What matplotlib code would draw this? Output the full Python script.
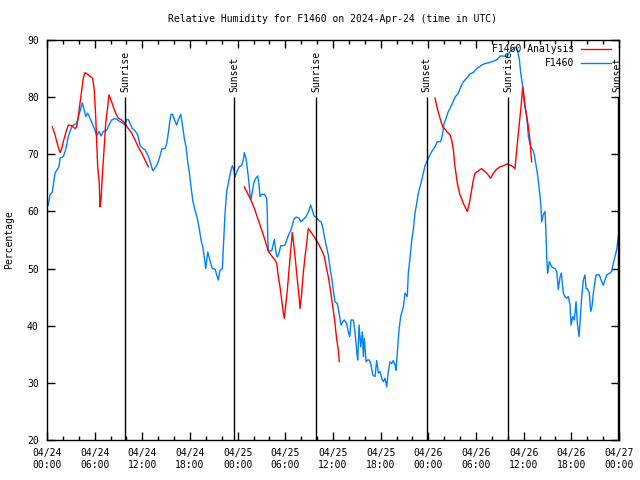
import numpy as np
import pandas as pd
import matplotlib
matplotlib.use('Agg')
import matplotlib.pyplot as plt
import matplotlib.dates as mdates

# hours after 2024-04-24 00:00 UTC
obs_hours = [0.16, 0.38, 0.67, 1.01, 1.22, 1.51, 1.64, 2.05, 2.35, 2.68, 3.11, 3.31, 3.74, 3.94,
             4.15, 4.44, 4.70, 4.87, 5.12, 5.41, 5.70, 6.04, 6.26, 6.55, 6.80, 7.09, 7.52, 7.80,
             8.14, 8.56, 8.90, 9.19, 9.60, 9.82, 10.03, 10.23, 10.45, 10.74, 11.08, 11.42, 11.71,
             12.00, 12.34, 12.68, 12.97, 13.31, 13.60, 13.89, 14.14, 14.44, 14.85, 15.07, 15.27,
             15.48, 15.61, 15.82, 16.02, 16.33, 16.53, 16.83, 17.08, 17.28, 17.50, 17.71, 17.91,
             18.13, 18.34, 18.63, 18.92, 19.17, 19.39, 19.60, 19.76, 19.98, 20.23, 20.39, 20.61,
             20.81, 21.15, 21.36, 21.56, 21.78, 22.07, 22.19, 22.41, 22.62, 22.91, 23.12, 23.33,
             23.54, 23.67, 23.95, 24.21, 24.51, 24.71, 24.84, 25.05, 25.26, 25.43, 25.55, 25.68,
             25.84, 26.02, 26.27, 26.52, 26.69, 26.81, 27.03, 27.35, 27.65, 27.73, 27.78, 27.86,
             28.29, 28.49, 28.61, 28.70, 28.83, 28.99, 29.20, 29.42, 29.67, 29.96, 30.17, 30.46,
             30.68, 30.88, 31.13, 31.43, 31.72, 31.97, 32.26, 32.57, 32.89, 33.19, 33.40, 33.61,
             33.86, 34.15, 34.49, 34.71, 34.91, 35.21, 35.41, 35.62, 35.84, 36.04, 36.25, 36.54,
             36.76, 37.01, 37.22, 37.42, 37.72, 37.93, 38.10, 38.27, 38.56, 38.77, 38.99, 39.11,
             39.28, 39.49, 39.69, 39.82, 39.94, 40.16, 40.37, 40.57, 40.79, 41.00, 41.29, 41.50,
             41.71, 41.92, 42.13, 42.33, 42.55, 42.76, 42.96, 43.18, 43.39, 43.59, 43.81, 43.93,
             44.15, 44.31, 44.52, 44.85, 45.07, 45.35, 45.48, 45.69, 45.91, 46.11, 46.32, 46.54,
             46.74, 46.95, 47.17, 47.37, 47.58, 47.80, 48.12, 48.43, 48.84, 49.13, 49.56, 49.81,
             49.98, 50.23, 50.52, 50.94, 51.36, 51.78, 52.08, 52.41, 52.83, 53.25, 53.66, 54.00,
             54.42, 54.72, 55.14, 55.55, 55.98, 56.39, 56.68, 57.02, 57.44, 57.87, 58.28, 58.70,
             58.91, 59.20, 59.46, 59.63, 59.83, 59.96, 60.09, 60.30, 60.46, 60.59, 60.89, 61.14,
             61.34, 61.52, 61.72, 61.93, 62.15, 62.27, 62.47, 62.69, 62.81, 62.90, 63.03, 63.23,
             63.53, 63.95, 64.16, 64.36, 64.58, 64.74, 64.99, 65.21, 65.42, 65.62, 65.84, 65.96,
             66.18, 66.38, 66.59, 66.76, 66.97, 67.09, 67.31, 67.51, 67.72, 67.85, 68.01, 68.26,
             68.44, 68.60, 68.77, 68.98, 69.11, 69.52, 69.74, 70.03, 70.24, 70.45, 70.87, 71.08,
             71.28, 71.50, 71.71, 71.91, 72.00]
obs_rh = [61.1, 62.9, 63.4, 66.7, 67.2, 67.8, 69.3, 69.6, 70.8, 73.1, 74.8, 75.1, 75.4, 76.6,
          77.5, 79.0, 77.7, 76.6, 77.2, 76.3, 75.4, 74.2, 73.2, 74.0, 73.2, 74.0, 74.2, 75.1,
          76.0, 76.3, 76.0, 75.7, 75.4, 75.1, 76.1, 76.1, 75.4, 74.5, 74.1, 73.4, 71.6,
          71.1, 70.8, 69.9, 68.8, 67.1, 67.6, 68.3, 69.3, 70.9, 71.0, 71.9, 73.7,
          76.0, 77.0, 77.0, 76.1, 75.1, 76.1, 77.0, 74.8, 72.8, 71.3, 68.7, 66.9,
          64.3, 62.0, 60.2, 58.8, 57.0, 55.0, 53.8, 52.4, 50.0, 52.9, 52.1, 50.9,
          50.0, 49.9, 48.9, 48.0, 49.7, 50.0, 53.3, 59.7, 63.5, 65.5, 67.0, 68.0,
          67.2, 66.1, 67.1, 67.8, 68.1, 69.0, 70.3, 69.3, 67.0, 64.9, 62.9, 62.1,
          63.4, 64.9, 65.8, 66.2, 64.6, 62.6, 63.0, 63.0, 62.3, 59.7, 55.6, 53.1,
          53.1, 54.4, 55.1, 54.1, 52.7, 52.0, 52.7, 54.0, 54.0, 54.1, 55.0, 56.0,
          56.7, 57.6, 58.8, 59.0, 58.8, 58.2, 58.6, 59.0, 59.9, 61.1, 60.2, 59.2,
          59.0, 58.5, 58.2, 57.2, 55.6, 53.6, 52.4, 50.2, 48.3, 46.2, 44.2, 43.9,
          42.2, 40.1, 40.7, 41.0, 40.4, 38.9, 38.1, 41.0, 41.0, 38.9, 35.4, 34.0,
          40.1, 36.3, 38.9, 34.6, 37.8, 33.7, 34.0, 34.0, 33.1, 31.4, 31.1, 33.9,
          31.7, 32.0, 30.8, 30.2, 30.8, 29.3, 32.0, 33.7, 33.4, 33.9, 33.1, 32.2,
          36.3, 39.3, 41.6, 43.3, 45.7, 45.1, 49.2, 51.8, 55.0, 56.8, 59.7, 61.4,
          63.2, 64.3, 65.5, 66.7, 68.0, 68.7, 69.6, 70.5, 71.3, 72.2, 72.2, 73.7,
          75.4, 76.3, 77.5, 78.6, 80.0, 80.7, 81.8, 82.7, 83.3, 84.1, 84.3, 84.9,
          85.3, 85.6, 85.9, 86.0, 86.2, 86.4, 86.6, 87.2, 87.2, 87.1, 88.0, 88.4,
          88.8, 88.4, 86.5, 84.2, 82.4, 80.4, 78.9, 77.5, 75.4, 73.1, 71.3, 70.8,
          69.9, 68.4, 66.7, 64.3, 61.4, 58.2, 59.4, 60.0, 56.2, 51.8, 49.2, 51.2,
          50.3, 50.0, 49.5, 46.3, 48.6, 49.2, 45.7, 45.1, 44.8, 45.1, 43.6, 40.1,
          41.6, 41.0, 44.2, 40.4, 38.1, 40.4, 45.1, 48.0, 48.9, 46.5, 46.5, 45.7,
          42.5, 43.3, 45.7, 47.7, 48.9, 48.9, 48.0, 47.1, 48.0, 48.9, 49.2, 49.5,
          50.9, 52.1, 53.3, 55.6, 56.2]

# analysis runs (three separate pieces)
ana1_hours = [0.67, 1.01, 1.35, 1.64, 1.85, 2.05, 2.35, 2.68, 3.11, 3.52, 3.74, 3.94, 4.15,
              4.37, 4.57, 4.78, 5.20, 5.75, 5.95, 6.13, 6.26, 6.38, 6.58, 6.67, 6.80, 6.96,
              7.18, 7.39, 7.64, 7.80, 8.06, 8.35, 8.65, 8.98, 9.40, 9.82, 10.23, 10.66, 11.08,
              11.49, 11.92, 12.34, 12.75]
ana1_rh = [74.8, 73.4, 71.6, 70.3, 71.0, 72.2, 73.7, 75.1, 75.0, 74.5, 74.8, 76.6, 78.9,
           81.2, 83.3, 84.3, 83.9, 83.3, 81.2, 76.6, 71.9, 67.8, 64.9, 60.8, 62.0, 66.1,
           70.8, 75.4, 78.3, 80.4, 79.5, 78.3, 77.2, 76.3, 76.0, 75.4, 74.5, 73.7, 72.5,
           71.3, 70.2, 69.0, 67.8]
ana2_hours = [24.84, 25.34, 25.77, 26.18, 26.60, 27.03, 27.44, 27.86, 28.29, 28.70, 28.91,
              29.12, 29.33, 29.54, 29.75, 29.87, 30.05, 30.25, 30.46, 30.68, 30.88, 31.09,
              31.31, 31.51, 31.72, 31.85, 32.06, 32.26, 32.48, 32.69, 32.89, 33.32, 33.74,
              34.15, 34.58, 34.91, 35.21, 35.41, 35.75, 36.04, 36.25, 36.47, 36.67, 36.80]
ana2_rh = [64.3, 62.9, 61.7, 60.2, 58.5, 56.7, 55.0, 53.0, 52.2, 51.5, 50.9,
           48.6, 46.8, 44.5, 42.2, 41.3, 43.6, 46.2, 49.7, 53.3, 56.3, 53.8,
           50.9, 48.0, 45.1, 43.0, 45.7, 49.2, 52.1, 54.4, 57.0, 56.2, 55.3,
           54.4, 53.2, 52.1, 49.8, 48.6, 45.5, 42.7, 40.4, 37.5, 35.8, 33.7]
ana3_hours = [48.84, 49.13, 49.47, 49.81, 50.10, 50.31, 50.73, 50.94, 51.15, 51.36, 51.65,
              51.99, 52.41, 52.91, 53.16, 53.46, 53.66, 53.88, 54.29, 54.72, 54.92, 55.35,
              55.85, 56.18, 56.61, 57.02, 57.44, 57.94, 58.28, 58.70, 58.91, 59.12, 59.33,
              59.54, 59.67, 59.88, 60.05, 60.17, 60.39, 60.59, 60.79, 61.00]
ana3_rh = [79.8, 78.0, 76.3, 74.8, 74.4, 74.0, 73.4, 72.5, 70.8, 67.8, 64.9,
           62.9, 61.4, 60.0, 61.4, 63.8, 65.5, 66.7, 67.1, 67.5, 67.2, 66.7,
           65.8, 66.7, 67.4, 67.8, 68.0, 68.3, 68.1, 67.8, 67.5, 70.8, 73.7,
           76.6, 78.3, 81.8, 80.1, 78.3, 76.6, 74.8, 72.5, 68.7]

sun_hours = [9.86, 23.58, 33.90, 47.80, 58.07, 71.84]
sun_labels = ['Sunrise', 'Sunset', 'Sunrise', 'Sunset', 'Sunrise', 'Sunset']

start = pd.Timestamp('2024-04-24 00:00')


def to_time(hours):
    return start + pd.to_timedelta(np.array(hours), unit='h')


FONT = 'DejaVu Sans Mono'
FS = 7

fig = plt.figure(figsize=(6.4, 4.8), dpi=100)
ax = fig.add_axes([47 / 640, 40 / 480, 572 / 640, 400 / 480])

ax.plot(to_time(obs_hours), obs_rh, color='#0080ff', lw=1.0)
for h, v in [(ana1_hours, ana1_rh), (ana2_hours, ana2_rh), (ana3_hours, ana3_rh)]:
    ax.plot(to_time(h), v, color='red', lw=1.0)

# sunrise / sunset markers
sun_t = to_time(sun_hours)
ax.vlines(sun_t, 20, 80, color='black', lw=1.0)
for t, lab in zip(sun_t, sun_labels):
    ax.text(t, 80.9, lab, rotation=90, ha='center', va='bottom',
            fontsize=FS, family=FONT)

ax.set_xlim(start, start + pd.Timedelta(hours=72))
ax.set_ylim(20, 90)
ax.set_yticks(np.arange(20, 91, 10))
ax.xaxis.set_major_locator(mdates.HourLocator(byhour=[0, 6, 12, 18]))
ax.xaxis.set_minor_locator(mdates.HourLocator(interval=2))
ax.xaxis.set_major_formatter(mdates.DateFormatter('%m/%d\n%H:%M'))
ax.tick_params(which='both', direction='in', top=True, right=True,
               labelsize=FS, width=1.0, color='black')
ax.tick_params(which='major', length=6, pad=6)
ax.tick_params(which='minor', length=3)
for lab in ax.get_xticklabels() + ax.get_yticklabels():
    lab.set_family(FONT)
for s in ax.spines.values():
    s.set_linewidth(1.0)

ax.set_ylabel('Percentage', fontsize=FS, family=FONT, labelpad=9)
fig.text(333 / 640, 1 - 19 / 480, 'Relative Humidity for F1460 on 2024-Apr-24 (time in UTC)',
         ha='center', va='center', fontsize=FS, family=FONT)

# legend, right aligned text like gnuplot
for i, (lab, col) in enumerate([('F1460 Analysis', 'red'), ('F1460', '#0080ff')]):
    y = 0.978 - i * 0.036
    ax.text(0.922, y, lab, transform=ax.transAxes, ha='right', va='center',
            fontsize=FS, family=FONT)
    ax.plot([0.934, 0.986], [y, y], transform=ax.transAxes, color=col, lw=1.0)

fig.savefig('out.png', dpi=100)
